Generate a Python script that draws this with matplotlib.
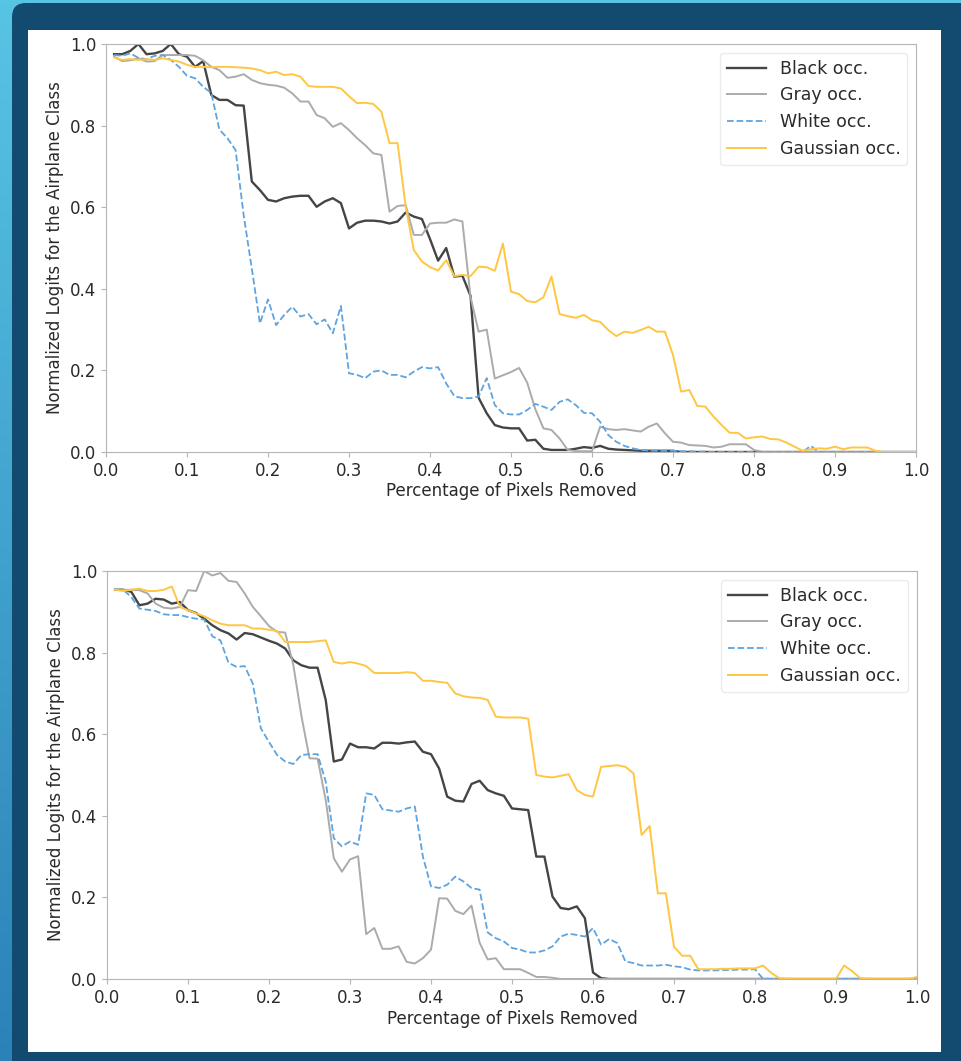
import numpy as np
import matplotlib
matplotlib.use("Agg")
import matplotlib.pyplot as plt
from matplotlib.patches import FancyBboxPatch, Rectangle

plt.rcParams["font.family"] = ["DejaVu Sans"]

# fraction of pixels removed, 0.01 .. 1.00
x = np.arange(1, 101) / 100.0

labels = ["Black occ.", "Gray occ.", "White occ.", "Gaussian occ."]

# ---- top panel ----
top_black = [0.975, 0.975, 0.983, 1.0, 0.975, 0.977, 0.983, 1.0, 0.975, 0.969,
             0.944, 0.958, 0.875, 0.863, 0.863, 0.85, 0.849, 0.663, 0.642, 0.618,
             0.614, 0.622, 0.626, 0.628, 0.628, 0.601, 0.614, 0.622, 0.61, 0.548,
             0.562, 0.567, 0.567, 0.565, 0.56, 0.565, 0.587, 0.577, 0.571, 0.522,
             0.469, 0.50, 0.43, 0.432, 0.383, 0.133, 0.095, 0.066, 0.06, 0.058,
             0.058, 0.028, 0.03, 0.008, 0.005, 0.005, 0.005, 0.008, 0.012, 0.01,
             0.015, 0.008, 0.006, 0.005, 0.004, 0.003, 0.003, 0.003, 0.003, 0.003] + [0.0] * 30

top_gray = [0.969, 0.958, 0.96, 0.965, 0.957, 0.958, 0.973, 0.973, 0.973, 0.973,
            0.971, 0.96, 0.944, 0.936, 0.917, 0.92, 0.926, 0.912, 0.904, 0.9,
            0.898, 0.893, 0.879, 0.859, 0.859, 0.826, 0.818, 0.797, 0.806, 0.789,
            0.769, 0.752, 0.732, 0.728, 0.589, 0.603, 0.605, 0.532, 0.532, 0.56,
            0.562, 0.562, 0.57, 0.565, 0.38, 0.295, 0.3, 0.18, 0.188, 0.196,
            0.206, 0.17, 0.105, 0.058, 0.054, 0.033, 0.005, 0.002, 0.002, 0.002,
            0.062, 0.056, 0.054, 0.056, 0.053, 0.05, 0.062, 0.07, 0.046, 0.025,
            0.023, 0.017, 0.016, 0.015, 0.011, 0.013, 0.019, 0.019, 0.019, 0.005] + [0.0] * 20

top_white = [0.973, 0.971, 0.977, 0.966, 0.963, 0.971, 0.973, 0.961, 0.944, 0.922,
             0.916, 0.895, 0.88, 0.79, 0.769, 0.74, 0.58, 0.45, 0.315, 0.374,
             0.311, 0.336, 0.356, 0.332, 0.338, 0.313, 0.325, 0.291, 0.358, 0.193,
             0.189, 0.181, 0.197, 0.2, 0.189, 0.189, 0.183, 0.197, 0.208, 0.205,
             0.208, 0.168, 0.137, 0.132, 0.132, 0.136, 0.181, 0.115, 0.095, 0.092,
             0.092, 0.103, 0.118, 0.111, 0.103, 0.123, 0.129, 0.115, 0.096, 0.095,
             0.074, 0.042, 0.025, 0.015, 0.009, 0.005, 0.004, 0.003, 0.003, 0.003,
             0.002, 0.002, 0.001, 0.001, 0.0, 0.0, 0.0, 0.0, 0.0, 0.0,
             0.0, 0.0, 0.0, 0.0, 0.0, 0.0, 0.015, 0.0, 0.0, 0.0] + [0.0] * 10

top_gauss = [0.967, 0.961, 0.963, 0.961, 0.963, 0.961, 0.965, 0.961, 0.957, 0.949,
             0.944, 0.944, 0.943, 0.944, 0.944, 0.943, 0.942, 0.94, 0.936, 0.928,
             0.932, 0.924, 0.926, 0.92, 0.897, 0.895, 0.895, 0.895, 0.891, 0.872,
             0.855, 0.856, 0.853, 0.834, 0.757, 0.757, 0.601, 0.495, 0.467, 0.453,
             0.445, 0.47, 0.431, 0.434, 0.431, 0.454, 0.453, 0.444, 0.511, 0.393,
             0.387, 0.37, 0.367, 0.379, 0.43, 0.338, 0.333, 0.329, 0.336, 0.323,
             0.319, 0.299, 0.284, 0.295, 0.292, 0.299, 0.307, 0.295, 0.295, 0.238,
             0.148, 0.152, 0.113, 0.111, 0.087, 0.066, 0.047, 0.047, 0.033, 0.036,
             0.038, 0.032, 0.031, 0.023, 0.013, 0.003, 0.007, 0.009, 0.008, 0.013,
             0.007, 0.011, 0.011, 0.011, 0.003, 0.0, 0.0, 0.0, 0.0, 0.0]

# ---- bottom panel ----
bot_black = [0.954, 0.954, 0.949, 0.916, 0.92, 0.932, 0.93, 0.92, 0.924, 0.904,
             0.897, 0.883, 0.867, 0.855, 0.847, 0.832, 0.848, 0.845, 0.837, 0.829,
             0.822, 0.81, 0.781, 0.769, 0.763, 0.763, 0.684, 0.533, 0.538, 0.577,
             0.568, 0.568, 0.565, 0.579, 0.579, 0.577, 0.58, 0.582, 0.557, 0.551,
             0.516, 0.447, 0.437, 0.435, 0.478, 0.486, 0.463, 0.455, 0.449, 0.418,
             0.416, 0.414, 0.3, 0.3, 0.202, 0.174, 0.171, 0.178, 0.149, 0.016,
             0.002] + [0.0] * 39

bot_gray = [0.954, 0.954, 0.954, 0.953, 0.945, 0.92, 0.91, 0.908, 0.912, 0.953,
            0.951, 1.0, 0.989, 0.995, 0.976, 0.973, 0.945, 0.912, 0.889, 0.865,
            0.851, 0.849, 0.77, 0.645, 0.541, 0.54, 0.439, 0.296, 0.263, 0.293,
            0.301, 0.11, 0.125, 0.074, 0.074, 0.08, 0.042, 0.038, 0.051, 0.072,
            0.198, 0.197, 0.167, 0.159, 0.18, 0.089, 0.048, 0.051, 0.024, 0.024,
            0.024, 0.015, 0.005, 0.005, 0.003] + [0.0] * 45

bot_white = [0.954, 0.954, 0.936, 0.908, 0.905, 0.902, 0.894, 0.892, 0.892, 0.887,
             0.883, 0.881, 0.84, 0.83, 0.775, 0.765, 0.767, 0.724, 0.614, 0.581,
             0.549, 0.533, 0.527, 0.549, 0.551, 0.551, 0.484, 0.345, 0.325, 0.337,
             0.329, 0.455, 0.451, 0.416, 0.413, 0.41, 0.418, 0.423, 0.3, 0.227,
             0.223, 0.231, 0.251, 0.239, 0.223, 0.219, 0.114, 0.1, 0.092, 0.076,
             0.072, 0.065, 0.065, 0.07, 0.08, 0.104, 0.111, 0.108, 0.104, 0.125,
             0.084, 0.098, 0.088, 0.043, 0.039, 0.033, 0.033, 0.033, 0.035, 0.031,
             0.029, 0.023, 0.021, 0.021, 0.021, 0.022, 0.022, 0.023, 0.023, 0.024] + [0.0] * 20

bot_gauss = [0.954, 0.951, 0.954, 0.957, 0.951, 0.951, 0.954, 0.962, 0.912, 0.904,
             0.896, 0.889, 0.879, 0.871, 0.867, 0.867, 0.867, 0.859, 0.859, 0.856,
             0.853, 0.826, 0.826, 0.826, 0.826, 0.828, 0.83, 0.777, 0.773, 0.777,
             0.773, 0.767, 0.75, 0.75, 0.75, 0.75, 0.752, 0.75, 0.731, 0.731,
             0.728, 0.726, 0.7, 0.693, 0.69, 0.689, 0.684, 0.643, 0.641, 0.641,
             0.641, 0.638, 0.5, 0.496, 0.494, 0.498, 0.502, 0.463, 0.451, 0.447,
             0.52, 0.522, 0.524, 0.52, 0.504, 0.353, 0.375, 0.21, 0.21, 0.079,
             0.057, 0.057, 0.024, 0.024, 0.024, 0.025, 0.025, 0.026, 0.026, 0.026,
             0.033, 0.015, 0.002, 0.0, 0.0, 0.0, 0.0, 0.0, 0.0, 0.0,
             0.033, 0.019, 0.002, 0.0, 0.0, 0.0, 0.0, 0.0, 0.0, 0.005]

panels = [
    (top_black, top_gray, top_white, top_gauss),
    (bot_black, bot_gray, bot_white, bot_gauss),
]

styles = [
    dict(color="#454545", lw=1.7, ls="-"),
    dict(color="#ababab", lw=1.4, ls="-"),
    dict(color="#5ea4e0", lw=1.3, ls="--"),
    dict(color="#ffc642", lw=1.4, ls="-"),
]

W, H = 961, 1061
fig = plt.figure(figsize=(W / 100, H / 100), dpi=100)

# slide-like background
bg = fig.add_axes([0, 0, 1, 1], zorder=-10)
bg.set_xlim(0, W)
bg.set_ylim(H, 0)
bg.axis("off")
grad = np.linspace(0, 1, 256).reshape(-1, 1)
cmap = matplotlib.colors.LinearSegmentedColormap.from_list("bgc", ["#58c4e4", "#2b82b8"])
bg.imshow(grad, cmap=cmap, extent=[0, W, H, 0], aspect="auto")
bg.add_patch(FancyBboxPatch((12, 3), W + 20, H + 20,
                            boxstyle="round,pad=0,rounding_size=14",
                            fc="#134a70", ec="none"))
bg.add_patch(Rectangle((28, 30), 913, 1022, fc="white", ec="none"))

text_c = "#2a2a2a"
spine_c = "#b5b5b5"

rects = [
    [106 / W, 1 - 452 / H, 810 / W, 408 / H],
    [107 / W, 1 - 979 / H, 810 / W, 408 / H],
]

for rect, series in zip(rects, panels):
    ax = fig.add_axes(rect)
    for ys, lab, st in zip(series, labels, styles):
        ax.plot(x, ys, label=lab, **st)
    ax.set_xlim(0, 1)
    ax.set_ylim(0, 1)
    ax.set_xticks(np.arange(0, 1.01, 0.1))
    ax.set_yticks(np.arange(0, 1.01, 0.2))
    for s in ax.spines.values():
        s.set_color(spine_c)
    ax.tick_params(colors=spine_c, labelcolor=text_c, labelsize=12)
    ax.set_xlabel("Percentage of Pixels Removed", fontsize=12, color=text_c, labelpad=2)
    ax.set_ylabel("Normalized Logits for the Airplane Class", fontsize=12, color=text_c)
    leg = ax.legend(loc="upper right", fontsize=12.5, handlelength=2.2)
    for t in leg.get_texts():
        t.set_color(text_c)
    leg.get_frame().set_edgecolor("#e6e6e6")

fig.savefig("out.png", dpi=100)
